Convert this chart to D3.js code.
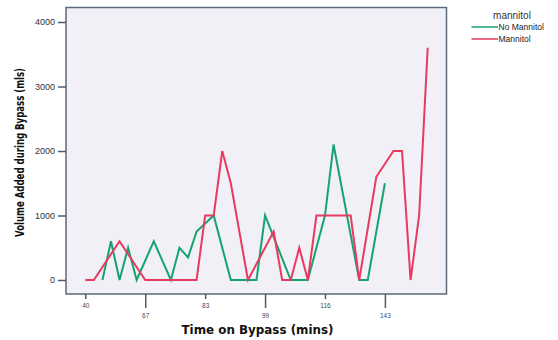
<!DOCTYPE html>
<html>
<head>
<meta charset="utf-8">
<style>
  body { margin: 0; background: #fff; }
  svg text { font-family: "Liberation Sans", Arial, sans-serif; }
</style>
<title>Volume added during bypass</title>
</head>
<body>
<script src="https://cdn.jsdelivr.net/npm/d3@7"></script>
<script>

// data ///////////////////////////////////////////////////////////////////////

// one slot per time category on the x axis (41 in all), null = no value
var mannitol = [
  0, 0, null, null, 600, null, null, 0, 0, 0,
  0, 0, 0, 0, 1000, 1000, 2000, 1500, null, 0,
  null, null, 750, 0, 0, 500, 0, 1000, 1000, 1000,
  1000, 1000, 0, null, 1600, null, 2000, 2000, 0, 1000,
  3600
];
var noMannitol = [
  null, null, 0, 600, 0, 500, 0, null, 600, null,
  0, 500, 350, 750, null, 1000, null, 0, 0, 0,
  0, 1000, null, null, 0, 0, 0, null, 1000, 2100,
  null, null, 0, 0, null, 1500, null, null, null, null,
  null
];
var tickIndex  = [0, 7, 14, 21, 28, 35];
var tickLabels = ["40", "67", "83", "99", "116", "143"];
var yTicks     = [0, 1000, 2000, 3000, 4000];
var seriesNames = ["No Mannitol", "Mannitol"];

// layout /////////////////////////////////////////////////////////////////////

var W = 558, H = 340;
var frame = {left: 66, right: 446.5, top: 7.5, bottom: 294};

var svg = d3.select("body").append("svg")
    .attr("width", W)
    .attr("height", H);

var x = d3.scalePoint()
    .domain(d3.range(mannitol.length))
    .range([85.3, 427.7]);

var y = d3.scaleLinear()
    .domain([0, 4000])
    .range([280, 22]);

var color = d3.scaleOrdinal()
    .domain(seriesNames)
    .range(["#16a271", "#e83a5f"]);

// plot background
svg.append("rect")
    .attr("x", frame.left)
    .attr("y", frame.top)
    .attr("width", frame.right - frame.left)
    .attr("height", frame.bottom - frame.top)
    .attr("fill", "#f1f0f7")
    .attr("stroke", "#5b687a")
    .attr("stroke-width", 1.5);

// y axis
var yAxis = svg.append("g")
    .attr("transform", `translate(${frame.left},0)`)
    .call(d3.axisLeft(y).tickValues(yTicks).tickFormat(d3.format("d"))
        .tickSize(8).tickPadding(3));
yAxis.select(".domain").remove();
yAxis.selectAll("line").attr("stroke", "#4e5a6c").attr("stroke-width", 1.5);
yAxis.selectAll("text")
    .attr("fill", "#2c3340")
    .style("font-size", "9px");

// x axis: labels every 7th category, staggered on two rows
var xAxis = svg.append("g")
    .attr("transform", `translate(0,${frame.bottom})`)
    .call(d3.axisBottom(x)
        .tickValues(tickIndex)
        .tickFormat((d, i) => tickLabels[i]));
xAxis.select(".domain").remove();
xAxis.selectAll(".tick line")
    .attr("stroke", "#4e5a6c")
    .attr("stroke-width", 1.5)
    .attr("y2", (d, i) => i % 2 ? 14 : 5);
xAxis.selectAll(".tick text")
    .attr("y", (d, i) => i % 2 ? 19 : 9)
    .attr("dy", "0.71em")
    .attr("fill", "#3a4a68")
    .style("font-size", "6.5px");

// lines
var line = d3.line()
    .x(d => x(d.i))
    .y(d => y(d.v));

var series = [
  {name: "No Mannitol", values: noMannitol},
  {name: "Mannitol",    values: mannitol},
];

svg.selectAll(".series")
  .data(series)
  .join("path")
    .attr("class", "series")
    .attr("fill", "none")
    .attr("stroke", d => color(d.name))
    .attr("stroke-width", 2)
    .attr("stroke-linejoin", "miter")
    .attr("d", d => line(d.values
        .map((v, i) => ({i: i, v: v}))
        .filter(p => p.v !== null)));

// axis titles
svg.append("text")
    .attr("x", 257.5)
    .attr("y", 334)
    .attr("text-anchor", "middle")
    .attr("textLength", 152)
    .attr("lengthAdjust", "spacingAndGlyphs")
    .style("font-family", "'DejaVu Sans', sans-serif")
    .style("font-weight", "bold")
    .style("font-size", "11.5px")
    .attr("fill", "#111")
    .text("Time on Bypass (mins)");

svg.append("text")
    .attr("transform", "translate(23.5,152.5) rotate(-90)")
    .attr("text-anchor", "middle")
    .attr("textLength", 169)
    .attr("lengthAdjust", "spacingAndGlyphs")
    .style("font-family", "'DejaVu Sans', sans-serif")
    .style("font-weight", "bold")
    .style("font-size", "12px")
    .attr("fill", "#111")
    .text("Volume Added during Bypass (mls)");

// legend
var legend = svg.append("g");
legend.append("text")
    .attr("x", 512)
    .attr("y", 19)
    .attr("text-anchor", "middle")
    .attr("fill", "#333")
    .style("font-size", "10px")
    .text("mannitol");

var item = legend.selectAll(".item")
  .data(seriesNames)
  .join("g")
    .attr("class", "item")
    .attr("transform", (d, i) => `translate(0,${27 + i * 12})`);
item.append("line")
    .attr("x1", 471.5)
    .attr("x2", 498)
    .attr("stroke", d => color(d))
    .attr("stroke-width", 1.5);
item.append("text")
    .attr("x", 498.5)
    .attr("dy", "0.33em")
    .attr("fill", "#222")
    .style("font-size", "8.5px")
    .text(d => d);

</script>
</body>
</html>
